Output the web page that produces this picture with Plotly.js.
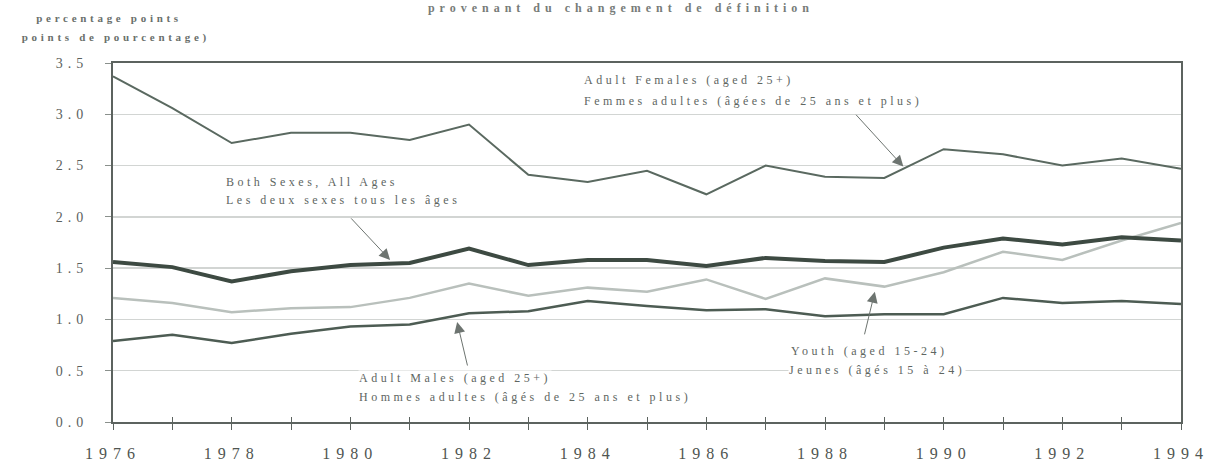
<!DOCTYPE html>
<html>
<head>
<meta charset="utf-8">
<script src="https://cdn.plot.ly/plotly-3.0.1.min.js"></script>
<style>
  html, body { margin: 0; padding: 0; background: #ffffff; }
  #chart { width: 1211px; height: 464px; }
  .xtick text { letter-spacing: 6px; }
  .ytick text { letter-spacing: 5px; }
  .annotation-text { letter-spacing: 3.5px; }
  .annotation[data-index="0"] .annotation-text { letter-spacing: 3.7px; }
  .annotation[data-index="1"] .annotation-text { letter-spacing: 3.7px; }
  .gtitle { letter-spacing: 5px; }
</style>
</head>
<body>
<div id="chart"></div>
<script>
// ---- data ----
const years = [1976, 1977, 1978, 1979, 1980, 1981, 1982, 1983, 1984, 1985,
               1986, 1987, 1988, 1989, 1990, 1991, 1992, 1993, 1994];
const adultFemales = [3.37, 3.06, 2.72, 2.82, 2.82, 2.75, 2.90, 2.41, 2.34, 2.45,
                      2.22, 2.50, 2.39, 2.38, 2.66, 2.61, 2.50, 2.57, 2.47];
const bothSexes    = [1.56, 1.51, 1.37, 1.47, 1.53, 1.55, 1.69, 1.53, 1.58, 1.58,
                      1.52, 1.60, 1.57, 1.56, 1.70, 1.79, 1.73, 1.80, 1.77];
const youth        = [1.21, 1.16, 1.07, 1.11, 1.12, 1.21, 1.35, 1.23, 1.31, 1.27,
                      1.39, 1.20, 1.40, 1.32, 1.46, 1.66, 1.58, 1.77, 1.94];
const adultMales   = [0.79, 0.85, 0.77, 0.86, 0.93, 0.95, 1.06, 1.08, 1.18, 1.13,
                      1.09, 1.10, 1.03, 1.05, 1.05, 1.21, 1.16, 1.18, 1.15];
const xTickLabels = years.map(y => (y % 2 === 0 ? String(y) : ''));
const yTickVals = [0, 0.5, 1.0, 1.5, 2.0, 2.5, 3.0, 3.5];
const yTickLabels = ['0.0', '0.5', '1.0', '1.5', '2.0', '2.5', '3.0', '3.5'];

const titleText = 'provenant du changement de définition';
const yTitleLine1 = 'percentage points';
const yTitleLine2 = 'points de pourcentage)';
const labelFemalesEn = 'Adult Females (aged 25+)';
const labelFemalesFr = 'Femmes adultes (âgées de 25 ans et plus)';
const labelBothEn = 'Both Sexes, All Ages';
const labelBothFr = 'Les deux sexes tous les âges';
const labelMalesEn = 'Adult Males (aged 25+)';
const labelMalesFr = 'Hommes adultes (âgés de 25 ans et plus)';
const labelYouthEn = 'Youth (aged 15-24)';
const labelYouthFr = 'Jeunes (âgés 15 à 24)';

// ---- traces ----
const traces = [
  { x: years, y: youth, type: 'scatter', mode: 'lines', name: labelYouthEn,
    line: { color: '#b9c0bc', width: 2.5 }, hoverinfo: 'skip' },
  { x: years, y: adultMales, type: 'scatter', mode: 'lines', name: labelMalesEn,
    xaxis: 'x2', line: { color: '#4d5c53', width: 2.5 }, hoverinfo: 'skip' },
  { x: years, y: adultFemales, type: 'scatter', mode: 'lines', name: labelFemalesEn,
    line: { color: '#5a6960', width: 2 }, hoverinfo: 'skip' },
  { x: years, y: bothSexes, type: 'scatter', mode: 'lines', name: labelBothEn,
    line: { color: '#3d4a42', width: 4 }, hoverinfo: 'skip' }
];

const txtFont = { family: 'Liberation Serif, DejaVu Serif, serif', size: 12, color: '#5e6662' };
const boldFont = { family: 'Liberation Serif, DejaVu Serif, serif', size: 11, color: '#6a706c', weight: 'bold' };

function label(text, xPix, yPix) {
  return {
    text: text, xref: 'paper', yref: 'paper',
    x: (xPix - 113) / 1068, y: (422 - yPix) / 359,
    xanchor: 'left', yanchor: 'middle', showarrow: false,
    font: txtFont, bgcolor: '#ffffff', borderpad: 0
  };
}
function arrow(hx, hy, tx, ty) {
  return {
    text: '', x: hx, y: hy, ax: tx, ay: ty, xref: 'x', yref: 'y', axref: 'x', ayref: 'y',
    showarrow: true, arrowhead: 2, arrowsize: 2.2, arrowwidth: 1, arrowcolor: '#6d7470',
    standoff: 0, startstandoff: 0
  };
}

const annotations = [
  { text: yTitleLine1, xref: 'paper', yref: 'paper', x: -0.004, y: (422 - 18) / 359,
    xanchor: 'center', yanchor: 'middle', showarrow: false, font: boldFont },
  { text: yTitleLine2, xref: 'paper', yref: 'paper', x: 0.003, y: (422 - 38) / 359,
    xanchor: 'center', yanchor: 'middle', showarrow: false, font: boldFont },
  label(labelFemalesEn, 583, 80),
  label(labelFemalesFr, 583, 101),
  label(labelBothEn, 225, 182),
  label(labelBothFr, 225, 200),
  label(labelMalesEn, 358, 378),
  label(labelMalesFr, 358, 397),
  label(labelYouthEn, 790, 351),
  label(labelYouthFr, 788, 370),
  arrow(1989.32, 2.49, 1988.5, 3.01),
  arrow(1980.67, 1.58, 1979.99, 2.0),
  arrow(1981.80, 0.975, 1981.98, 0.536),
  arrow(1988.84, 1.27, 1988.66, 0.84)
];

const layout = {
  width: 1211, height: 464,
  margin: { l: 113, r: 30, t: 63, b: 42 },
  paper_bgcolor: '#ffffff', plot_bgcolor: '#ffffff',
  showlegend: false,
  title: {
    text: titleText, x: 576 / 1211, xanchor: 'center', xref: 'paper',
    y: 1 - 8 / 464, yanchor: 'middle', yref: 'container',
    font: { family: 'Liberation Serif, DejaVu Serif, serif', size: 12, color: '#777c79', weight: 'bold' }
  },
  xaxis: {
    range: [1976, 1994], tickvals: years, ticktext: xTickLabels,
    ticks: 'outside', ticklen: 6, tickcolor: '#5c635f', tickwidth: 1,
    showgrid: false, zeroline: false,
    showline: true, linecolor: '#5c635f', linewidth: 2, mirror: true,
    ticklabelstandoff: 10,
    tickfont: { family: 'Liberation Serif, DejaVu Serif, serif', size: 16, color: '#4f5551' }
  },
  xaxis2: {
    overlaying: 'x', matches: 'x', anchor: 'y', side: 'bottom',
    tickvals: years, showticklabels: false, ticks: 'inside', ticklen: 5,
    tickcolor: '#5c635f', tickwidth: 1, showgrid: false, zeroline: false, showline: false
  },
  yaxis: {
    range: [0, 3.5], tickvals: yTickVals, ticktext: yTickLabels,
    ticks: 'outside', ticklen: 6, tickcolor: '#8a908c',
    showgrid: true, gridcolor: '#d2d5d3', gridwidth: 1.5, griddash: 'solid',
    zeroline: false, showline: true, linecolor: '#5c635f', linewidth: 2, mirror: true,
    ticklabelstandoff: 14,
    tickfont: { family: 'Liberation Serif, DejaVu Serif, serif', size: 14, color: '#5b615d' }
  },
  annotations: annotations
};

Plotly.newPlot('chart', traces, layout, { staticPlot: true, displayModeBar: false });
</script>
</body>
</html>
